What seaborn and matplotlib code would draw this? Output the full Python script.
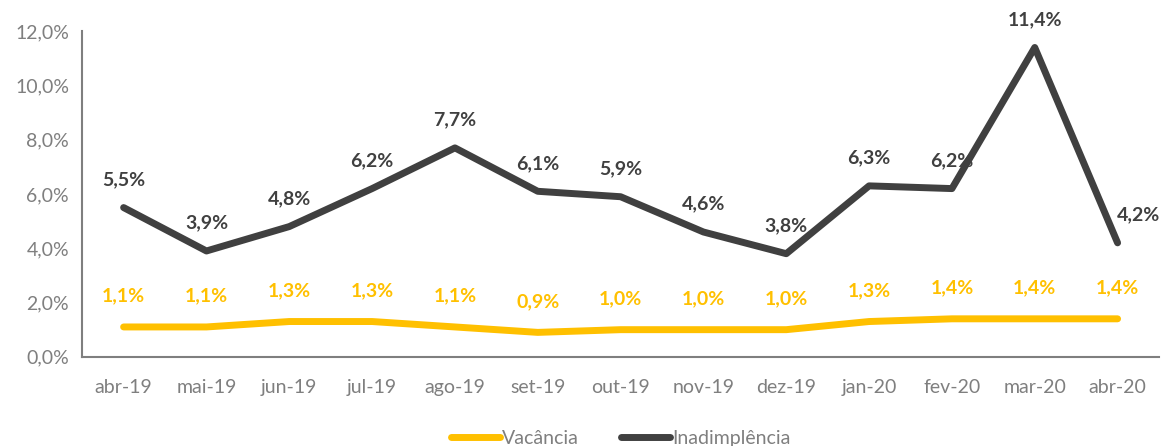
import matplotlib
matplotlib.use("Agg")
import matplotlib.pyplot as plt
import seaborn as sns
import pandas as pd
from matplotlib.ticker import FixedLocator, FuncFormatter

# dados
meses = ["abr-19", "mai-19", "jun-19", "jul-19", "ago-19", "set-19", "out-19",
         "nov-19", "dez-19", "jan-20", "fev-20", "mar-20", "abr-20"]
vacancia = [1.1, 1.1, 1.3, 1.3, 1.1, 0.9, 1.0, 1.0, 1.0, 1.3, 1.4, 1.4, 1.4]
inadimplencia = [5.5, 3.9, 4.8, 6.2, 7.7, 6.1, 5.9, 4.6, 3.8, 6.3, 6.2, 11.4, 4.2]

AMARELO = "#FFC000"
CINZA_ESCURO = "#404040"
CINZA = "#7f7f7f"

sns.set_style("white")
plt.rcParams["font.family"] = ["Lato", "DejaVu Sans"]

df = pd.DataFrame({"mes": meses, "pos": range(len(meses)),
                   "Vacância": vacancia, "Inadimplência": inadimplencia})

fig, ax = plt.subplots(figsize=(11.66, 4.46), dpi=100)
fig.subplots_adjust(left=0.0705, right=0.994, top=0.93, bottom=0.2)

sns.lineplot(data=df, x="pos", y="Vacância", ax=ax, color=AMARELO, lw=5,
             solid_capstyle="round", solid_joinstyle="round", label="Vacância")
sns.lineplot(data=df, x="pos", y="Inadimplência", ax=ax, color=CINZA_ESCURO, lw=5,
             solid_capstyle="round", solid_joinstyle="round", label="Inadimplência")

def fmt(v):
    return f"{v:.1f}%".replace(".", ",")

for i, v in enumerate(vacancia):
    ax.annotate(fmt(v), (i, v), xytext=(0, 16), textcoords="offset points",
                ha="center", va="bottom", color=AMARELO, fontsize=14, fontweight="bold")
for i, v in enumerate(inadimplencia):
    dx = 15 if i == len(meses) - 1 else 0
    ax.annotate(fmt(v), (i, v), xytext=(dx, 14), textcoords="offset points",
                ha="center", va="bottom", color=CINZA_ESCURO, fontsize=14, fontweight="bold")

ax.set_xlim(-0.5, len(meses) - 0.5)
ax.set_ylim(0, 12)
ax.set_yticks(range(0, 13, 2))
ax.yaxis.set_major_formatter(FuncFormatter(lambda v, p: fmt(v)))
ax.set_xticks(range(len(meses)))
ax.set_xticklabels(meses)
ax.xaxis.set_minor_locator(FixedLocator([i + 0.5 for i in range(-1, len(meses))]))
ax.tick_params(axis="x", which="major", length=0, pad=16, labelsize=14, colors=CINZA)
ax.tick_params(axis="x", which="minor", length=6, width=1.5, color=CINZA, direction="out")
ax.tick_params(axis="y", length=6, width=1.5, color=CINZA, labelsize=14, labelcolor=CINZA, direction="out")
ax.set_xlabel("")
ax.set_ylabel("")

for s in ["top", "right"]:
    ax.spines[s].set_visible(False)
for s in ["left", "bottom"]:
    ax.spines[s].set_color(CINZA)
    ax.spines[s].set_linewidth(1.5)

leg = ax.legend(loc="upper center", bbox_to_anchor=(0.5, -0.17), ncol=2, frameon=False,
                fontsize=14, handlelength=2.5, handletextpad=0.1, columnspacing=2.2)
for t in leg.get_texts():
    t.set_color(CINZA)

fig.savefig("out.png", dpi=100)
